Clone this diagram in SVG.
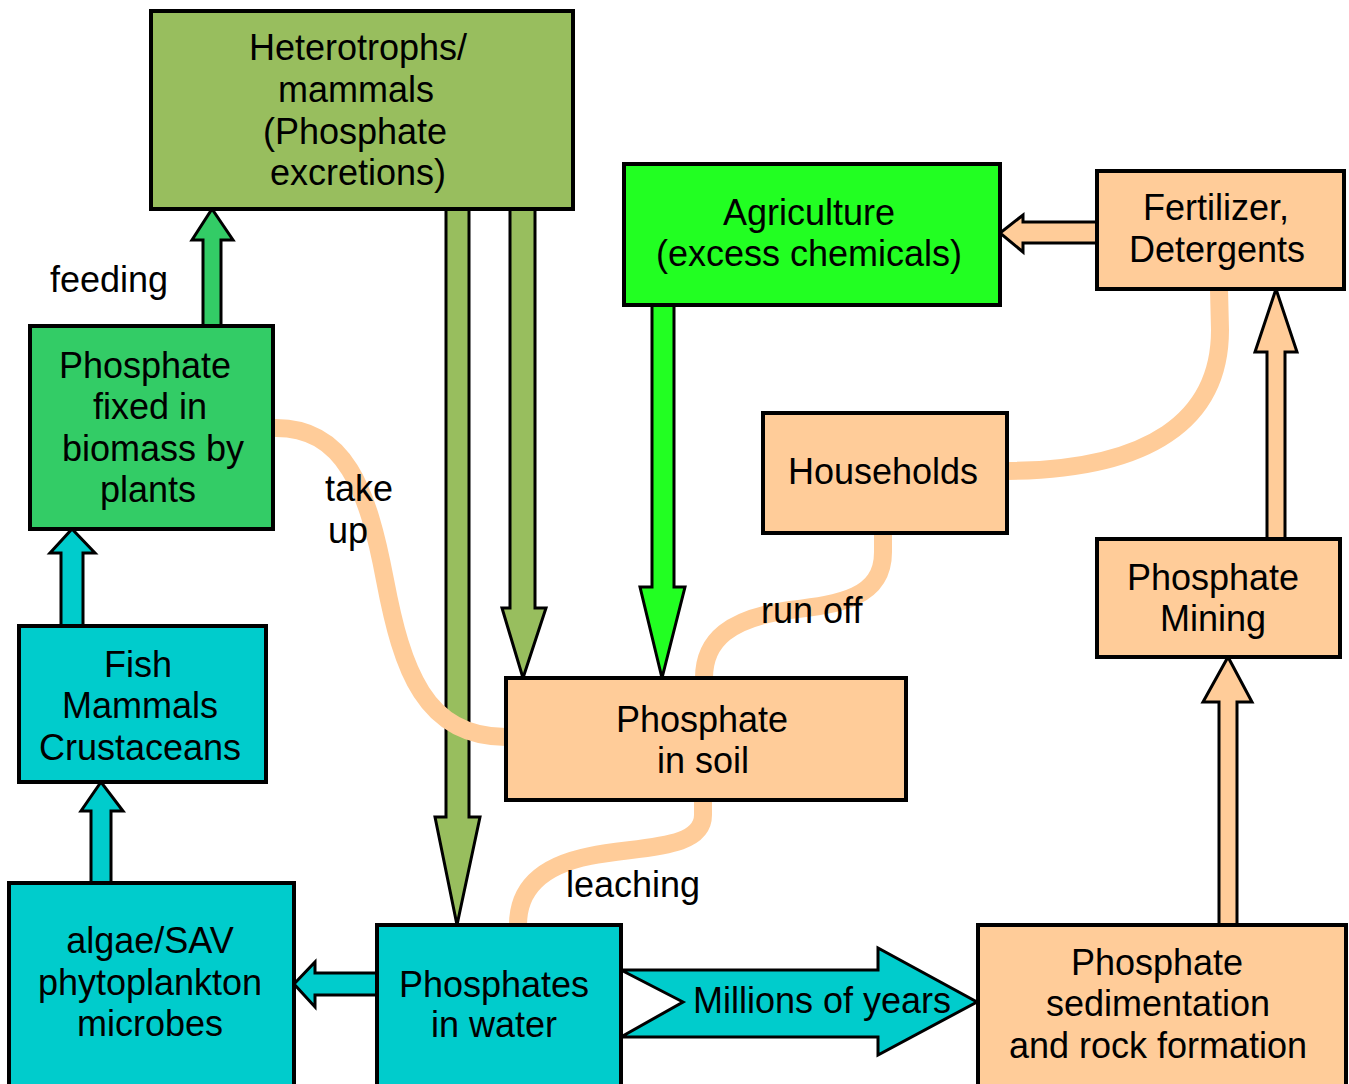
<svg xmlns="http://www.w3.org/2000/svg" width="1349" height="1084" viewBox="0 0 1349 1084">
<style>
.box{stroke:#000;stroke-width:4}
.arr{stroke:#000;stroke-width:3;stroke-linejoin:miter}
.flow{fill:none;stroke:#FFCC99;stroke-width:18}
text{font-family:"Liberation Sans",Arial,sans-serif;font-size:36px;fill:#000}
.c{text-anchor:middle}
.olive{fill:#98BE5E}.lime{fill:#22FF22}.green{fill:#33CC66}.cyan{fill:#00CCCC}.peach{fill:#FFCC99}
</style>
<rect width="1349" height="1084" fill="#fff"/>
<g id="connectors">
<polygon class="arr green" points="203,326 203,240 192,240 212,209 233,240 221,240 221,326"/>
<polygon class="arr cyan" points="61,626 61,553 50,553 72,529 95,553 83,553 83,626"/>
<polygon class="arr cyan" points="91,883 91,811 81,811 101,782 123,811 111,811 111,883"/>
<polygon class="arr olive" points="446,209 469,209 469,817 480,817 457,925 435,817 446,817"/>
<polygon class="arr olive" points="510,209 535,209 535,608 546,608 523,678 502,608 510,608"/>
<polygon class="arr lime" points="652,305 674,305 674,587 685,587 662,678 640,587 652,587"/>
<polygon class="arr peach" points="1097,222 1023,222 1023,215 1000,233 1023,252 1023,243 1097,243"/>
<polygon class="arr peach" points="1267,539 1267,352 1255,352 1276,289 1297,352 1285,352 1285,539"/>
<polygon class="arr peach" points="1219,925 1219,702 1203,702 1228,657 1252,702 1237,702 1237,925"/>
<polygon class="arr cyan" points="377,973 315,973 315,962 294,984 315,1007 315,995 377,995"/>
<polygon class="arr cyan" points="621,970 878,970 878,948 977,1002 878,1055 878,1037 621,1037 683,1002"/>
<path class="flow" d="M273,428 C345,426 368,490 385,580 C402,670 425,737 506,737"/>
<path class="flow" d="M1007,471 C1150,470 1220,420 1220,330 L1219,289"/>
<path class="flow" d="M883,533 L883,552 C883,598 840,604 790,610 C730,618 704,640 704,678"/>
<path class="flow" d="M703,800 L703,815 C703,850 640,846 590,856 C540,866 518,890 518,925"/>
<text x="109" y="292" class="c">feeding</text>
<text x="325" y="501">take</text>
<text x="328" y="543">up</text>
<text x="761" y="623">run off</text>
<text x="566" y="897">leaching</text>
<text x="822" y="1013" class="c">Millions of years</text>
</g>
<g id="heterotrophs">
<rect class="box olive" x="151" y="11" width="422" height="198"/>
<text class="c" x="358" y="60">Heterotrophs/</text>
<text class="c" x="356" y="102">mammals</text>
<text class="c" x="355" y="144">(Phosphate</text>
<text class="c" x="358" y="185">excretions)</text>
</g>
<g id="agriculture">
<rect class="box lime" x="624" y="164" width="376" height="141"/>
<text class="c" x="809" y="225">Agriculture</text>
<text class="c" x="809" y="266">(excess chemicals)</text>
</g>
<g id="fertilizer">
<rect class="box peach" x="1097" y="171" width="247" height="118"/>
<text class="c" x="1216" y="220">Fertilizer,</text>
<text class="c" x="1217" y="262">Detergents</text>
</g>
<g id="plants">
<rect class="box green" x="30" y="326" width="243" height="203"/>
<text class="c" x="145" y="378">Phosphate</text>
<text class="c" x="150" y="419">fixed in</text>
<text class="c" x="153" y="461">biomass by</text>
<text class="c" x="148" y="502">plants</text>
</g>
<g id="households">
<rect class="box peach" x="763" y="413" width="244" height="120"/>
<text class="c" x="883" y="484">Households</text>
</g>
<g id="mining">
<rect class="box peach" x="1097" y="539" width="243" height="118"/>
<text class="c" x="1213" y="590">Phosphate</text>
<text class="c" x="1213" y="631">Mining</text>
</g>
<g id="fish">
<rect class="box cyan" x="19" y="626" width="247" height="156"/>
<text class="c" x="138" y="677">Fish</text>
<text class="c" x="140" y="718">Mammals</text>
<text class="c" x="140" y="760">Crustaceans</text>
</g>
<g id="soil">
<rect class="box peach" x="506" y="678" width="400" height="122"/>
<text class="c" x="702" y="732">Phosphate</text>
<text class="c" x="703" y="773">in soil</text>
</g>
<g id="algae">
<rect class="box cyan" x="9" y="883" width="285" height="205"/>
<text class="c" x="150" y="953">algae/SAV</text>
<text class="c" x="150" y="995">phytoplankton</text>
<text class="c" x="150" y="1036">microbes</text>
</g>
<g id="water">
<rect class="box cyan" x="377" y="925" width="244" height="163"/>
<text class="c" x="494" y="997">Phosphates</text>
<text class="c" x="494" y="1037">in water</text>
</g>
<g id="sedimentation">
<rect class="box peach" x="978" y="925" width="368" height="163"/>
<text class="c" x="1157" y="975">Phosphate</text>
<text class="c" x="1158" y="1016">sedimentation</text>
<text class="c" x="1158" y="1058">and rock formation</text>
</g>
</svg>
